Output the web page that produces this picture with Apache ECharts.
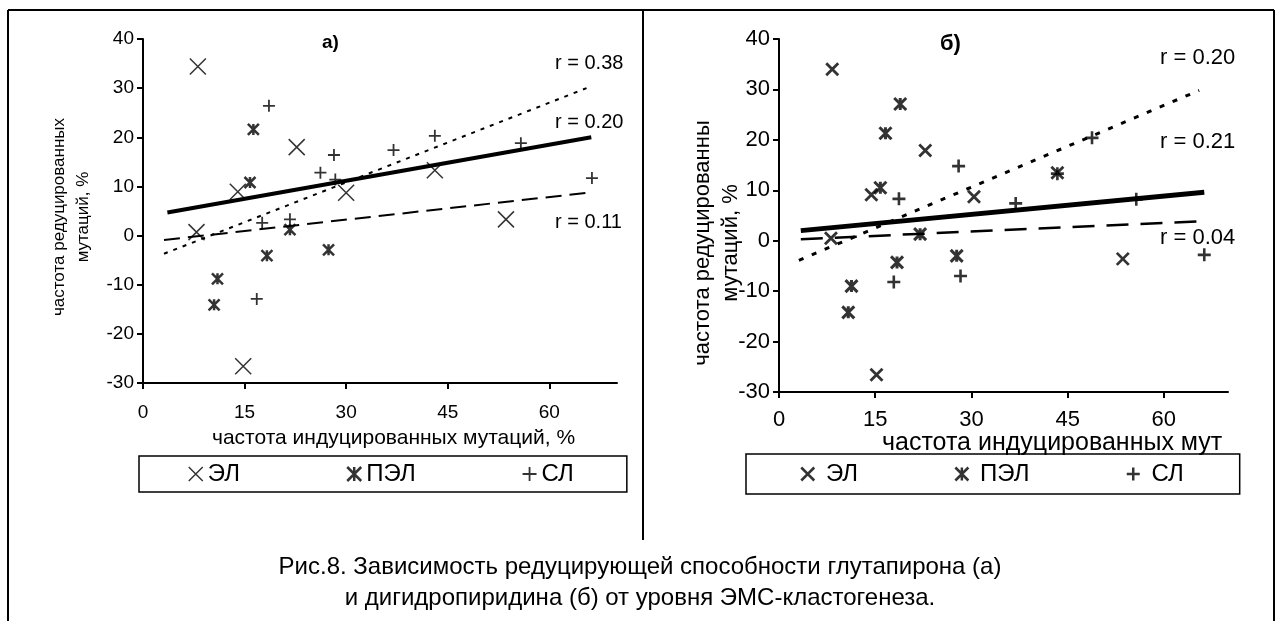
<!DOCTYPE html>
<html>
<head>
<meta charset="utf-8">
<script src="https://cdn.jsdelivr.net/npm/echarts@6/dist/echarts.min.js"></script>
<style>
html, body { margin: 0; padding: 0; background: #fff; }
#chart { width: 1280px; height: 621px; }
</style>
</head>
<body>
<div id="chart"></div>
<script>
var xTicks = [0, 15, 30, 45, 60];
var legendNames = ['ЭЛ', 'ПЭЛ', 'СЛ'];

// а) глутапирон: [частота индуцированных, частота редуцированных]
var elA  = [[8.1, 34.4], [14.0, 8.9], [7.9, 0.7], [14.8, -26.6], [22.7, 18.0], [30.0, 8.7], [43.1, 13.3], [53.6, 3.3]];
var pelA = [[16.3, 21.6], [15.8, 10.8], [11.0, -8.8], [10.5, -14.1], [18.3, -4.1], [21.7, 1.2], [27.4, -2.9]];
var slA  = [[18.6, 26.4], [16.8, -12.9], [17.6, 2.6], [21.7, 3.3], [26.2, 12.8], [28.4, 11.4], [28.2, 16.4],
            [37.0, 17.4], [43.1, 20.3], [55.8, 18.8], [66.3, 11.7]];
var trendSolidA  = [[3.6, 4.7], [66.2, 20.0]];
var trendDottedA = [[3.1, -3.7], [65.5, 30.0]];
var trendDashedA = [[3.1, -0.9], [66.2, 8.8]];
var rLabelsA = ['r = 0.38', 'r = 0.20', 'r = 0.11'];

// б) дигидропиридин
var elB  = [[8.3, 34.0], [14.4, 9.1], [8.1, 0.5], [15.2, -26.6], [22.8, 17.9], [30.4, 8.7], [43.4, 13.5], [53.6, -3.6]];
var pelB = [[18.9, 27.1], [16.6, 21.3], [15.8, 10.5], [11.3, -9.0], [10.8, -14.2], [18.4, -4.3], [22.0, 1.3], [27.7, -3.0]];
var slB  = [[28.0, 14.8], [18.7, 8.3], [17.9, -8.2], [28.3, -7.0], [36.9, 7.4], [43.4, 13.3], [48.8, 20.4],
            [55.7, 8.2], [66.3, -2.8]];
var trendSolidB  = [[3.4, 2.0], [66.3, 9.6]];
var trendDottedB = [[3.1, -3.9], [65.5, 29.8]];
var trendDashedB = [[3.4, 0.3], [66.3, 3.9]];
var rLabelsB = ['r = 0.20', 'r = 0.21', 'r = 0.04'];

var FONT = '"Liberation Sans", Arial, sans-serif';
var symX = 'path://M0,0L10,10M10,0L0,10';
var symStar = 'path://M0,0L10,10M10,0L0,10M5,0L5,10';
var symPlus = 'path://M5,0L5,10M0,5L10,5';

var myChart = echarts.init(document.getElementById('chart'));

function xAx(idx, fs, margin) {
	return {
		type: 'value', gridIndex: idx, min: 0, max: 70, interval: 15,
		axisLine: { onZero: false, lineStyle: { color: '#000', width: 2 } },
		axisTick: { customValues: xTicks, length: 6, lineStyle: { color: '#000', width: 2 } },
		axisLabel: { customValues: xTicks, color: '#000', fontSize: fs, fontFamily: FONT, margin: margin },
		splitLine: { show: false }
	};
}
function yAx(idx, fs) {
	return {
		type: 'value', gridIndex: idx, min: -30, max: 40, interval: 10,
		axisLine: { show: true, onZero: false, lineStyle: { color: '#000', width: 2 } },
		axisTick: { length: 6, lineStyle: { color: '#000', width: 2 } },
		axisLabel: { color: '#000', fontSize: fs, fontFamily: FONT, margin: 9 },
		splitLine: { show: false }
	};
}
function pts(name, idx, data, sym, size, bw) {
	return {
		type: 'scatter', name: name, xAxisIndex: idx, yAxisIndex: idx, data: data,
		symbol: sym, symbolSize: size, silent: true, z: 4,
		itemStyle: { color: '#000', borderColor: '#000', borderWidth: bw }
	};
}
function trend(idx, data, w, type) {
	return {
		type: 'line', xAxisIndex: idx, yAxisIndex: idx, data: data, symbol: 'none', silent: true, z: 3,
		lineStyle: { color: '#000', width: w, type: type }
	};
}
function txt(x, y, s, font, extra) {
	var o = { type: 'text', x: x, y: y, silent: true,
		style: { text: s, font: font, fill: '#000', align: 'left', verticalAlign: 'middle' } };
	if (extra) { for (var k in extra) o.style[k] = extra[k]; }
	return o;
}
function vline(x1, y1, x2, y2) {
	return { type: 'line', silent: true, shape: { x1: x1, y1: y1, x2: x2, y2: y2 }, style: { stroke: '#000', lineWidth: 2 } };
}

option = {
	animation: false,
	grid: [
		{ left: 143, top: 39, width: 474, height: 344 },
		{ left: 779, top: 39, width: 449, height: 353 }
	],
	xAxis: [xAx(0, 19, 20), xAx(1, 22, 17)],
	yAxis: [yAx(0, 19), yAx(1, 22)],
	legend: [
		{
			selectedMode: false, left: 139, top: 456, orient: 'horizontal',
			padding: [6, 53, 6, 49], itemGap: 106, itemWidth: 14, itemHeight: 14,
			borderColor: '#000', borderWidth: 1.5,
			textStyle: { color: '#000', fontSize: 24, fontFamily: FONT },
			data: [
				{ name: legendNames[0], icon: symX, itemStyle: { color: '#000', borderColor: '#000', borderWidth: 1.5 } },
				{ name: legendNames[1], icon: symStar, itemStyle: { color: '#000', borderColor: '#000', borderWidth: 2.5 } },
				{ name: legendNames[2], icon: symPlus, itemStyle: { color: '#000', borderColor: '#000', borderWidth: 1.8 } }
			]
		},
		{
			selectedMode: false, left: 746, top: 454, orient: 'horizontal',
			padding: [8, 56, 8, 54], itemGap: 96, itemWidth: 13, itemHeight: 13,
			borderColor: '#000', borderWidth: 1.5,
			formatter: function (n) { return ' ' + n; },
			textStyle: { color: '#000', fontSize: 24, fontFamily: FONT },
			data: [
				{ name: legendNames[0], icon: symX, itemStyle: { color: '#000', borderColor: '#000', borderWidth: 2.5 } },
				{ name: legendNames[1], icon: symStar, itemStyle: { color: '#000', borderColor: '#000', borderWidth: 2.5 } },
				{ name: legendNames[2], icon: symPlus, itemStyle: { color: '#000', borderColor: '#000', borderWidth: 2.5 } }
			]
		}
	],
	series: [
		trend(0, trendSolidA, 4, 'solid'),
		trend(0, trendDottedA, 2, [4, 6]),
		trend(0, trendDashedA, 2, [16, 8]),
		pts(legendNames[0], 0, elA, symX, 16, 1.5),
		pts(legendNames[1], 0, pelA, symStar, 11, 2.5),
		pts(legendNames[2], 0, slA, symPlus, 12, 1.8),

		trend(1, trendSolidB, 5, 'solid'),
		trend(1, trendDottedB, 3, [5, 9]),
		trend(1, trendDashedB, 2.5, [22, 12]),
		pts(legendNames[0], 1, elB, symX, 12, 2.8),
		pts(legendNames[1], 1, pelB, symStar, 12, 3),
		pts(legendNames[2], 1, slB, symPlus, 13, 2.6)
	],
	graphic: [
		vline(8, 10, 1274, 10),
		vline(8, 10, 8, 621),
		vline(1274, 10, 1274, 621),
		vline(643, 10, 643, 540),

		txt(322, 43, 'а)', 'bold 19px ' + FONT),
		txt(555, 63, rLabelsA[0], '20px ' + FONT),
		txt(555, 122, rLabelsA[1], '20px ' + FONT),
		txt(555, 222, rLabelsA[2], '20px ' + FONT),

		txt(940, 44, 'б)', 'bold 22px ' + FONT),
		txt(1160, 58, rLabelsB[0], '22px ' + FONT),
		txt(1160, 142, rLabelsB[1], '22px ' + FONT),
		txt(1160, 238, rLabelsB[2], '22px ' + FONT),

		{ type: 'text', x: 71, y: 217, rotation: Math.PI / 2, silent: true,
		  style: { text: 'частота редуцированных\nмутаций, %', font: '17px ' + FONT, lineHeight: 24,
		           fill: '#000', align: 'center', verticalAlign: 'middle' } },
		{ type: 'text', x: 717, y: 243, rotation: Math.PI / 2, silent: true,
		  style: { text: 'частота редуцированны\nмутаций, %', font: '22px ' + FONT, lineHeight: 28,
		           fill: '#000', align: 'center', verticalAlign: 'middle' } },

		txt(212, 438, 'частота индуцированных мутаций, %', '21px ' + FONT),
		txt(882, 443, 'частота индуцированных мут', '25px ' + FONT),

		txt(640, 567, 'Рис.8. Зависимость редуцирующей способности глутапирона (а)', '24px ' + FONT, { align: 'center' }),
		txt(640, 598, 'и дигидропиридина (б) от уровня ЭМС-кластогенеза.', '24px ' + FONT, { align: 'center' })
	]
};
myChart.setOption(option);
</script>
</body>
</html>
